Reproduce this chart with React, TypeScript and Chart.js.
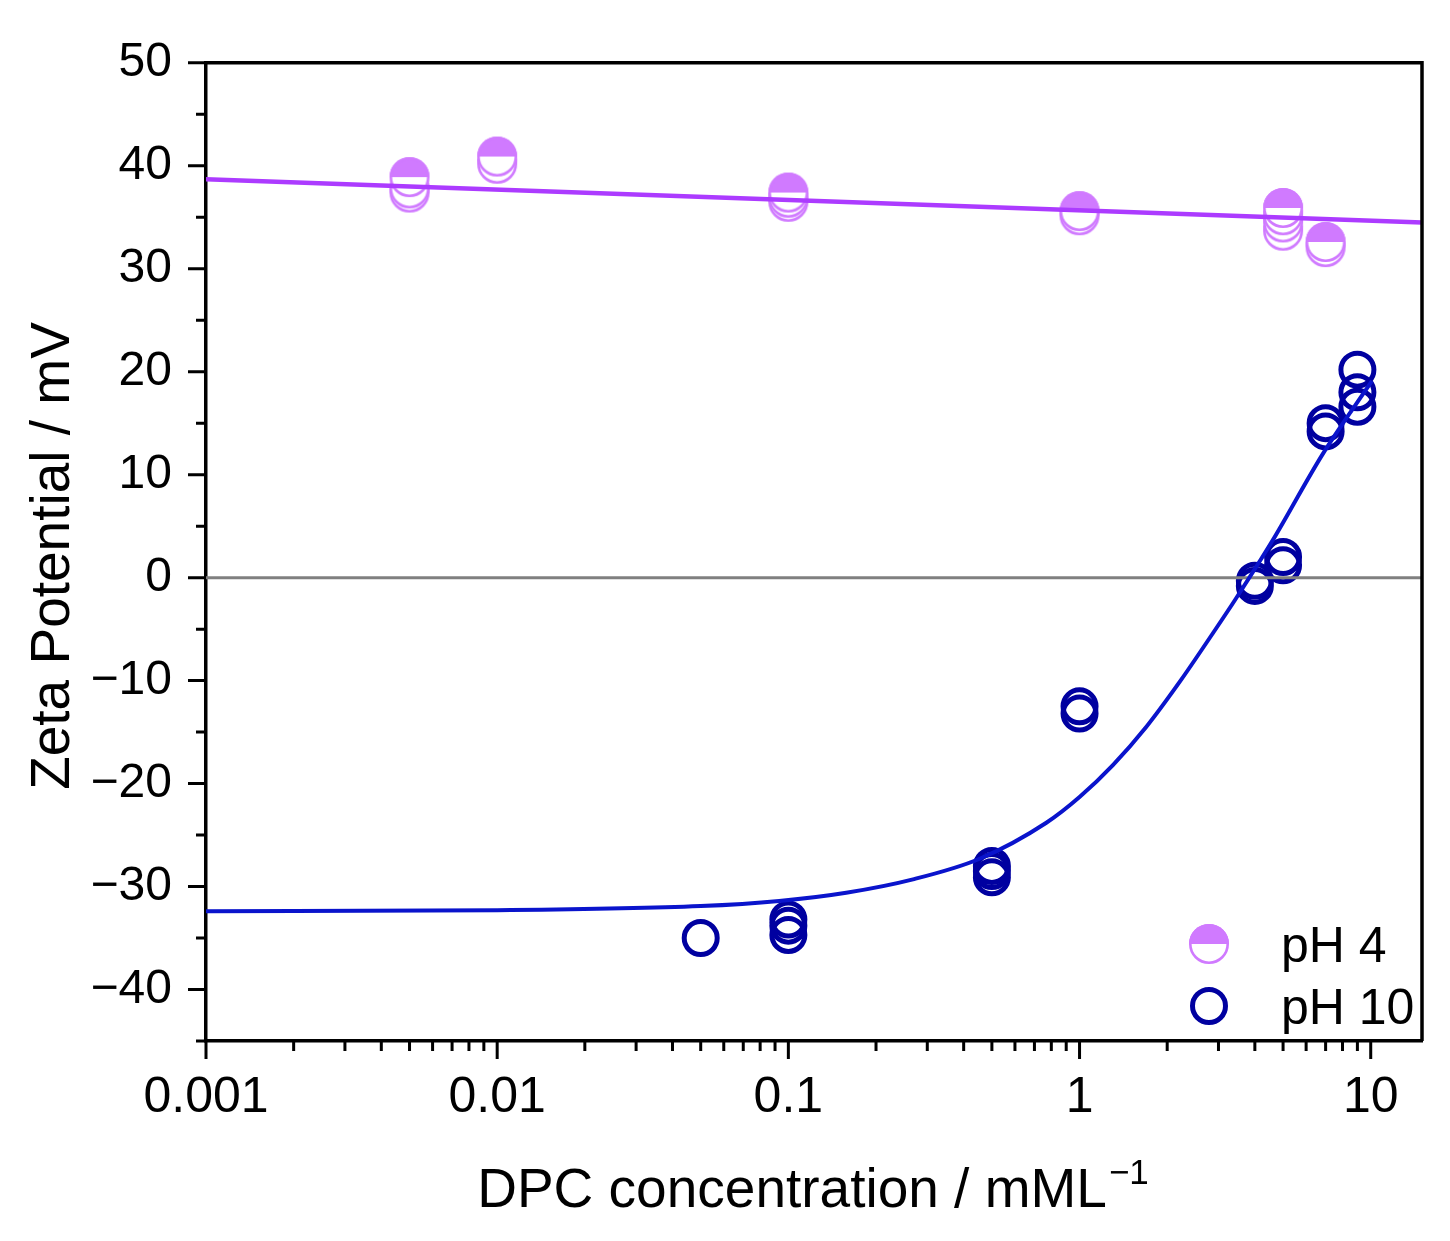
import React, { useEffect, useRef } from "react";
import { Chart, registerables } from "chart.js";

Chart.register(...registerables);

// ---------- data ----------
const ph4X = [0.005, 0.005, 0.005, 0.01, 0.01, 0.1, 0.1, 0.1, 1, 1, 5, 5, 5, 5, 7, 7];
const ph4Y = [37.4, 37.8, 38.9, 40.2, 40.9, 36.5, 36.9, 37.4, 35.2, 35.6, 33.7, 34.5, 35.2, 35.9, 32.1, 32.6];

const ph10X = [0.05, 0.1, 0.1, 0.1, 0.5, 0.5, 0.5, 1, 1, 4, 4, 5, 5, 7, 7, 9, 9, 9];
const ph10Y = [-35.0, -34.7, -33.8, -33.2, -29.1, -28.5, -28.0, -13.2, -12.5, -0.8, -0.3, 1.2, 2.0, 14.2, 15.0, 16.6, 18.0, 20.2];

const fit4X = [0.001, 15];
const fit4Y = [38.7, 34.5];

const fit10X = [0.001, 0.01, 0.05, 0.093, 0.158, 0.268, 0.454, 0.769, 1.0, 1.302, 1.694, 2.21, 2.87, 3.45, 4.6, 6.84, 10.1];
const fit10Y = [-32.4, -32.3, -31.9, -31.4, -30.6, -29.3, -27.3, -23.8, -21.3, -18.2, -14.5, -10.1, -5.4, -2.0, 3.6, 12.0, 19.1];

const zeroX = [0.001, 15];
const zeroY = [0, 0];

const xMajor = [0.001, 0.01, 0.1, 1, 10];
const xTickLabels = ["0.001", "0.01", "0.1", "1", "10"];
const yMajor = [-40, -30, -20, -10, 0, 10, 20, 30, 40, 50];
const yMinor = [-45, -35, -25, -15, -5, 5, 15, 25, 35, 45];

const seriesLabels = ["pH 4", "pH 10"];
const xTitle = "DPC concentration / mML";
const xTitleSup = "\u22121";
const yTitle = "Zeta Potential / mV";

// ---------- styles ----------
const FONT = "'Liberation Sans', Arial, Helvetica, sans-serif";
const PURPLE_MARK = "#D07AFF";
const PURPLE_LINE = "#AC3BFF";
const NAVY_MARK = "#0000A0";
const BLUE_LINE = "#0A14CC";
const GRAY = "#808080";

function makeHalfMarker(color: string, r: number, lw: number): HTMLCanvasElement {
  const size = Math.ceil(2 * r + 4);
  const c = document.createElement("canvas");
  c.width = size;
  c.height = size;
  const ctx = c.getContext("2d")!;
  const cx = size / 2;
  const cy = size / 2;
  ctx.beginPath();
  ctx.arc(cx, cy, r - lw / 2, 0, Math.PI * 2);
  ctx.fillStyle = "#ffffff";
  ctx.fill();
  ctx.beginPath();
  ctx.arc(cx, cy, r, Math.PI, Math.PI * 2);
  ctx.closePath();
  ctx.fillStyle = color;
  ctx.fill();
  ctx.beginPath();
  ctx.arc(cx, cy, r - lw / 2, 0, Math.PI * 2);
  ctx.strokeStyle = color;
  ctx.lineWidth = lw;
  ctx.stroke();
  return c;
}

function pts(xs: number[], ys: number[]) {
  return xs.map((x, i) => ({ x, y: ys[i] }));
}

export default function App() {
  const ref = useRef<HTMLCanvasElement>(null);

  useEffect(() => {
    const canvas = ref.current!;
    const half = makeHalfMarker(PURPLE_MARK, 20, 2.6);

    const decorPlugin = {
      id: "decor",
      afterDraw(chart: any) {
        const ctx = chart.ctx as CanvasRenderingContext2D;
        const ca = chart.chartArea;
        const xs = chart.scales.x;
        const ys = chart.scales.y;
        ctx.save();
        ctx.strokeStyle = "#000";
        // frame top & right
        ctx.lineWidth = 3.5;
        ctx.beginPath();
        ctx.moveTo(ca.left, ca.top);
        ctx.lineTo(ca.right, ca.top);
        ctx.lineTo(ca.right, ca.bottom);
        ctx.stroke();
        // ticks
        ctx.lineWidth = 3;
        const MAJ = 18;
        const MIN = 10;
        ctx.beginPath();
        xMajor.forEach((v) => {
          const px = xs.getPixelForValue(v);
          ctx.moveTo(px, ca.bottom);
          ctx.lineTo(px, ca.bottom + MAJ);
        });
        for (let e = -3; e <= 1; e++) {
          for (let m = 2; m <= 9; m++) {
            const v = m * Math.pow(10, e);
            if (v > 15) continue;
            const px = xs.getPixelForValue(v);
            ctx.moveTo(px, ca.bottom);
            ctx.lineTo(px, ca.bottom + MIN);
          }
        }
        yMajor.forEach((v) => {
          const py = ys.getPixelForValue(v);
          ctx.moveTo(ca.left, py);
          ctx.lineTo(ca.left - MAJ, py);
        });
        yMinor.forEach((v) => {
          const py = ys.getPixelForValue(v);
          ctx.moveTo(ca.left, py);
          ctx.lineTo(ca.left - MIN, py);
        });
        ctx.stroke();

        // legend
        ctx.fillStyle = "#000";
        ctx.font = `50px ${FONT}`;
        ctx.textAlign = "left";
        ctx.textBaseline = "alphabetic";
        ctx.drawImage(half, 1209 - half.width / 2, 944 - half.height / 2);
        ctx.fillText(seriesLabels[0], 1281, 962);
        ctx.beginPath();
        ctx.arc(1209, 1006, 16.5, 0, Math.PI * 2);
        ctx.strokeStyle = NAVY_MARK;
        ctx.lineWidth = 5;
        ctx.stroke();
        ctx.fillText(seriesLabels[1], 1281, 1024);

        // x title with superscript
        ctx.font = `55px ${FONT}`;
        const w1 = ctx.measureText(xTitle).width;
        ctx.font = `35px ${FONT}`;
        const w2 = ctx.measureText(xTitleSup).width;
        const total = w1 + 2 + w2;
        const start = 813 - total / 2;
        ctx.font = `55px ${FONT}`;
        ctx.fillText(xTitle, start, 1207);
        ctx.font = `35px ${FONT}`;
        ctx.fillText(xTitleSup, start + w1 + 2, 1184);

        // y title
        ctx.font = `55px ${FONT}`;
        ctx.translate(69, 556);
        ctx.rotate(-Math.PI / 2);
        ctx.textAlign = "center";
        ctx.fillText(yTitle, 0, 0);
        ctx.restore();
      },
    };

    const chart = new Chart(canvas, {
      type: "scatter",
      data: {
        datasets: [
          {
            label: seriesLabels[0],
            data: pts(ph4X, ph4Y),
            pointStyle: half as any,
            pointRadius: 20,
            showLine: false,
            order: 3,
          },
          {
            label: seriesLabels[1],
            data: pts(ph10X, ph10Y),
            pointStyle: "circle",
            pointRadius: 16.5,
            borderWidth: 5,
            borderColor: NAVY_MARK,
            backgroundColor: "rgba(0,0,0,0)",
            showLine: false,
            order: 3,
          },
          {
            label: "zero",
            data: pts(zeroX, zeroY),
            showLine: true,
            pointRadius: 0,
            borderColor: GRAY,
            borderWidth: 3,
            order: 2,
          },
          {
            label: "fit pH 4",
            data: pts(fit4X, fit4Y),
            showLine: true,
            pointRadius: 0,
            borderColor: PURPLE_LINE,
            borderWidth: 4.5,
            order: 1,
          },
          {
            label: "fit pH 10",
            data: pts(fit10X, fit10Y),
            showLine: true,
            pointRadius: 0,
            borderColor: BLUE_LINE,
            borderWidth: 4,
            cubicInterpolationMode: "monotone",
            order: 1,
          },
        ] as any,
      },
      options: {
        animation: false,
        responsive: false,
        devicePixelRatio: 1,
        layout: { padding: { top: 61, right: 28, left: 0, bottom: 0 } },
        plugins: {
          legend: { display: false },
          tooltip: { enabled: false },
          title: { display: false },
        },
        scales: {
          x: {
            type: "logarithmic",
            position: "bottom",
            min: 0.001,
            max: 15,
            grid: { display: false, drawTicks: false },
            border: { display: true, color: "#000", width: 3.5 },
            ticks: {
              autoSkip: false,
              maxRotation: 0,
              minRotation: 0,
              padding: 27,
              color: "#000",
              font: { family: FONT, size: 50 },
              callback: (v: any) => {
                const i = xMajor.indexOf(Number(v));
                return i >= 0 ? xTickLabels[i] : "";
              },
            },
            afterBuildTicks: (s: any) => {
              s.ticks = xMajor.map((v) => ({ value: v }));
            },
            afterFit: (s: any) => {
              s.height = 200;
            },
          },
          y: {
            type: "linear",
            position: "left",
            min: -45,
            max: 50,
            grid: { display: false, drawTicks: false },
            border: { display: true, color: "#000", width: 3.5 },
            ticks: {
              padding: 34,
              color: "#000",
              font: { family: FONT, size: 48 },
              callback: (v: any) => String(v).replace("-", "\u2212"),
            },
            afterBuildTicks: (s: any) => {
              s.ticks = yMajor.map((v) => ({ value: v }));
            },
            afterFit: (s: any) => {
              s.width = 206;
            },
          },
        },
      } as any,
      plugins: [decorPlugin],
    });

    return () => chart.destroy();
  }, []);

  return (
    <div style={{ position: "absolute", left: 0, top: 0, width: 1450, height: 1241, background: "#fff" }}>
      <canvas ref={ref} width={1450} height={1241} style={{ width: 1450, height: 1241, display: "block" }} />
    </div>
  );
}
